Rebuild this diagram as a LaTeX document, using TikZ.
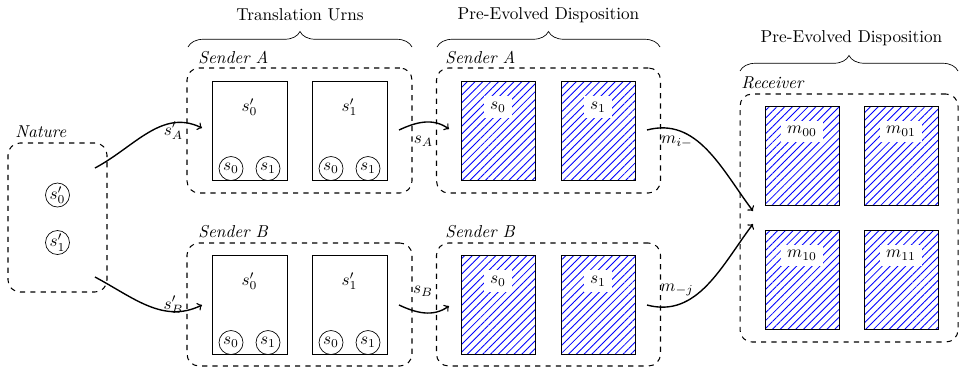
\documentclass[tikz,border=0pt]{standalone}
\usetikzlibrary{patterns.meta,decorations.pathreplacing}
\newcommand\pxu[1]{#1*0.5814pt}
\begin{document}
\begin{tikzpicture}[x=0.5814pt,y=0.5814pt,
  grp/.style={draw,dashed,semithick,rounded corners=7pt,inner sep=0pt},
  urn/.style={draw,minimum width=\pxu{75},minimum height=\pxu{99},inner sep=0pt},
  disp/.style={draw,pattern={Lines[angle=45,distance=3.2pt,line width=0.5pt]},pattern color=blue,minimum width=\pxu{74},minimum height=\pxu{99},inner sep=0pt},
  ball/.style={draw,circle,minimum size=\pxu{24},inner sep=0pt},
  tag/.style={fill=white},
  grptitle/.style={anchor=west,inner sep=0pt,font=\itshape},
  head/.style={inner sep=0pt},
  brc/.style={decorate,decoration={brace,amplitude=9pt}},
  conn/.style={->,line width=0.8pt},
  clab/.style={inner sep=0pt}]
\useasboundingbox (0,0) rectangle (959,-370);

% group boxes
\node[grp,minimum width=\pxu{99},minimum height=\pxu{149}] (N) at (57.5,-217.5) {};
\node[grp,minimum width=\pxu{225},minimum height=\pxu{125}] (UA) at (299.5,-130.5) {};
\node[grp,minimum width=\pxu{224},minimum height=\pxu{125}] (PA) at (548.5,-130.5) {};
\node[grp,minimum width=\pxu{225},minimum height=\pxu{123}] (UB) at (299.5,-304.5) {};
\node[grp,minimum width=\pxu{224},minimum height=\pxu{123}] (PB) at (548.5,-304.5) {};
\node[grp,minimum width=\pxu{218},minimum height=\pxu{248}] (R) at (849,-218) {};

% titles
\node[grptitle] (tN) at (15,-132) {Nature};
\node[grptitle] (tUA) at (198,-58) {Sender A};
\node[grptitle] (tPA) at (445,-58) {Sender A};
\node[grptitle] (tUB) at (198,-232) {Sender B};
\node[grptitle] (tPB) at (445,-232) {Sender B};
\node[grptitle] (tR) at (741,-83) {Receiver};

% headers and braces
\node[head] (h1) at (300,-15) {Translation Urns};
\node[head] (h2) at (548.5,-15) {Pre-Evolved Disposition};
\node[head] (h3) at (851.5,-38) {Pre-Evolved Disposition};
\draw[brc] (188,-47) -- (412,-47);
\draw[brc] (437,-47) -- (660,-47);
\draw[brc] (740,-71) -- (958,-71);

% nature
\node[ball] (n0) at (57.5,-195) {$s'_0$};
\node[ball] (n1) at (57.5,-242.5) {$s'_1$};

% translation urns, sender A
\node[urn] (ua0) at (249.5,-130.5) {};
\node (ua0l) at (249.5,-107) {$s'_0$};
\node[ball] (ua0a) at (231,-168.5) {$s_0$};
\node[ball] (ua0b) at (268,-168.5) {$s_1$};
\node[urn] (ua1) at (349.5,-130.5) {};
\node (ua1l) at (349.5,-107) {$s'_1$};
\node[ball] (ua1a) at (331,-168.5) {$s_0$};
\node[ball] (ua1b) at (368,-168.5) {$s_1$};

% translation urns, sender B
\node[urn] (ub0) at (249.5,-304.5) {};
\node (ub0l) at (249.5,-281) {$s'_0$};
\node[ball] (ub0a) at (231,-342.5) {$s_0$};
\node[ball] (ub0b) at (268,-342.5) {$s_1$};
\node[urn] (ub1) at (349.5,-304.5) {};
\node (ub1l) at (349.5,-281) {$s'_1$};
\node[ball] (ub1a) at (331,-342.5) {$s_0$};
\node[ball] (ub1b) at (368,-342.5) {$s_1$};

% dispositions, senders
\node[disp] (pa0) at (498,-130.5) {};
\node[tag] (pa0l) at (498,-107) {$s_0$};
\node[disp] (pa1) at (598,-130.5) {};
\node[tag] (pa1l) at (598,-107) {$s_1$};
\node[disp] (pb0) at (498,-304.5) {};
\node[tag] (pb0l) at (498,-281) {$s_0$};
\node[disp] (pb1) at (598,-304.5) {};
\node[tag] (pb1l) at (598,-281) {$s_1$};

% receiver
\node[disp] (r00) at (802,-155.5) {};
\node[tag] (r00l) at (802,-131.5) {$m_{00}$};
\node[disp] (r01) at (901,-155.5) {};
\node[tag] (r01l) at (901,-131.5) {$m_{01}$};
\node[disp] (r10) at (802,-279.5) {};
\node[tag] (r10l) at (802,-255.5) {$m_{10}$};
\node[disp] (r11) at (901,-279.5) {};
\node[tag] (r11l) at (901,-255.5) {$m_{11}$};

% connector ends
\coordinate (nAs) at (95,-168);
\coordinate (nAe) at (202,-128);
\coordinate (nBs) at (95,-277);
\coordinate (nBe) at (202,-305);
\coordinate (uAs) at (399,-130);
\coordinate (uAe) at (449,-129);
\coordinate (uBs) at (399,-305);
\coordinate (uBe) at (449,-306);
\coordinate (pAs) at (647,-130);
\coordinate (pAe) at (753,-211);
\coordinate (pBs) at (647,-305);
\coordinate (pBe) at (753,-224);

\draw[conn] (nAs) to[out=28,in=154] (nAe);
\draw[conn] (nBs) to[out=-28,in=-154] (nBe);
\draw[conn] (uAs) to[out=25,in=145] (uAe);
\draw[conn] (uBs) to[out=-25,in=-145] (uBe);
\draw[conn] (pAs) to[out=15,in=127] (pAe);
\draw[conn] (pBs) to[out=-15,in=-127] (pBe);

% connector labels
\node[clab] (lA) at (173.5,-131) {$s'_A$};
\node[clab] (lB) at (173.5,-305) {$s'_B$};
\node[clab] (lsA) at (423.5,-141) {$s_A$};
\node[clab] (lsB) at (423,-291.5) {$s_B$};
\node[clab] (lmA) at (677,-142) {$m_{i-}$};
\node[clab] (lmB) at (677,-290) {$m_{-j}$};
\end{tikzpicture}
\end{document}
